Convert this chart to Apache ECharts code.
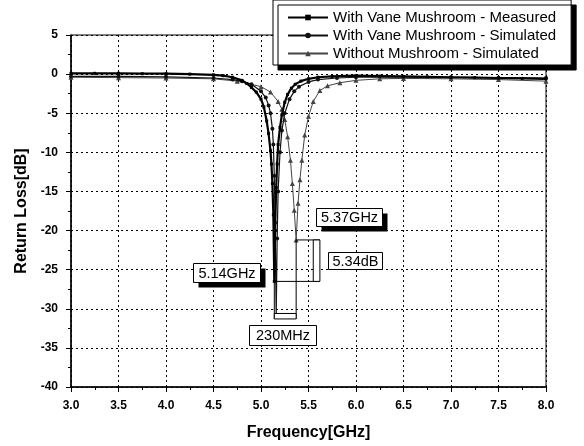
<!DOCTYPE html>
<html>
<head>
<meta charset="utf-8">
<script src="https://cdn.jsdelivr.net/npm/echarts@6/dist/echarts.min.js"></script>
<style>
  html, body { margin: 0; padding: 0; background: #fff; }
  #chart { width: 584px; height: 446px; }
</style>
</head>
<body>
<div id="chart"></div>
<script>
// Return loss of the antenna, with and without the vane mushroom structure
const measuredFreq = [3.0, 3.25, 3.5, 3.75, 4.0, 4.25, 4.5, 4.6, 4.7, 4.8, 4.85, 4.9, 4.95, 5.0, 5.03, 5.06, 5.08, 5.1, 5.11, 5.12, 5.13, 5.14, 5.15, 5.16, 5.17, 5.18, 5.2, 5.22, 5.25, 5.28, 5.32, 5.36, 5.42, 5.5, 5.6, 5.75, 6.0, 6.25, 6.5, 6.75, 7.0, 7.25, 7.5, 7.75, 8.0];
const measuredDb   = [0.1, 0.1, 0.1, 0.05, 0.05, 0, -0.1, -0.2, -0.4, -0.8, -1.2, -1.7, -2.3, -3.2, -4.2, -6.0, -7.6, -9.8, -11.5, -14, -18, -26.5, -19, -14.5, -11.5, -9, -6.8, -5.2, -3.6, -2.6, -1.8, -1.3, -0.9, -0.6, -0.4, -0.3, -0.2, -0.25, -0.3, -0.35, -0.4, -0.45, -0.5, -0.55, -0.6];

const vaneSimFreq = [3.0, 3.5, 4.0, 4.5, 4.7, 4.8, 4.9, 5.0, 5.05, 5.08, 5.1, 5.12, 5.13, 5.14, 5.15, 5.16, 5.17, 5.18, 5.2, 5.22, 5.25, 5.3, 5.35, 5.4, 5.5, 5.6, 5.8, 6.0, 6.5, 7.0, 7.5, 8.0];
const vaneSimDb   = [-0.3, -0.3, -0.35, -0.5, -0.7, -0.9, -1.3, -2.2, -3.0, -4.0, -5.0, -7.0, -9.0, -13, -20, -31, -21, -15, -10, -7.2, -5.0, -3.2, -2.2, -1.6, -1.0, -0.7, -0.5, -0.4, -0.35, -0.4, -0.45, -0.5];

const noMushFreq = [3.0, 3.5, 4.0, 4.5, 4.75, 5.0, 5.1, 5.18, 5.22, 5.25, 5.28, 5.31, 5.33, 5.35, 5.37, 5.39, 5.41, 5.43, 5.46, 5.5, 5.55, 5.62, 5.7, 5.83, 6.0, 6.25, 6.5, 7.0, 7.5, 8.0];
const noMushDb   = [-0.4, -0.45, -0.5, -0.6, -0.9, -1.6, -2.3, -3.5, -4.5, -5.8, -8.0, -11, -14, -17.4, -21.2, -16.5, -13.5, -11, -7.8, -5.4, -3.5, -2.1, -1.5, -1.1, -0.8, -0.6, -0.55, -0.6, -0.7, -0.9];

const seriesNames = [
  'With Vane Mushroom - Measured',
  'With Vane Mushroom - Simulated',
  'Without Mushroom - Simulated'
];

// Resonance comparison: frequencies (GHz) and minimum levels (dB)
const resFreqWith = 5.14;
const resFreqWithout = 5.37;
const resDbWith = -26.5;
const resDbWithout = -21.2;
const annotationTexts = ['5.37GHz', '5.34dB', '5.14GHz', '230MHz'];

const FONT = '"Liberation Sans", Arial, Helvetica, sans-serif';
const pair = (fs, ds) => fs.map((f, i) => [f, ds[i]]);

const chart = echarts.init(document.getElementById('chart'), null, { renderer: 'canvas' });

const axisCommon = {
  type: 'value',
  nameLocation: 'middle',
  nameTextStyle: { fontFamily: FONT, fontWeight: 'bold', fontSize: 16, color: '#000' },
  axisLine: { show: true, onZero: false, lineStyle: { color: '#000', width: 1.5 } },
  axisTick: { show: true, length: 5, lineStyle: { color: '#000', width: 1 } },
  minorTick: { show: true, splitNumber: 2, length: 3, lineStyle: { color: '#000', width: 1 } },
  splitLine: { show: true, lineStyle: { color: '#000', type: [2, 3], width: 1 } },
  axisLabel: { fontFamily: FONT, fontWeight: 'bold', fontSize: 12, color: '#000', margin: 13 }
};

chart.setOption({
  animation: false,
  backgroundColor: '#fff',
  grid: { left: 71, right: 38, top: 35, bottom: 59, show: true, borderColor: '#000', borderWidth: 1 },
  xAxis: Object.assign({}, axisCommon, {
    min: 3, max: 8, interval: 0.5,
    name: 'Frequency[GHz]', nameGap: 38,
    axisLabel: Object.assign({}, axisCommon.axisLabel, { formatter: v => v.toFixed(1) })
  }),
  yAxis: Object.assign({}, axisCommon, {
    min: -40, max: 5, interval: 5,
    name: 'Return Loss[dB]', nameGap: 38
  }),
  legend: {
    orient: 'vertical',
    left: 273, top: 0,
    padding: [10, 15, 4, 14],
    itemGap: 3,
    itemWidth: 40, itemHeight: 7,
    backgroundColor: '#fff',
    borderColor: '#000', borderWidth: 1,
    shadowColor: '#000', shadowOffsetX: 5, shadowOffsetY: 5, shadowBlur: 0,
    textStyle: { fontFamily: FONT, fontSize: 15, color: '#000' },
    data: seriesNames
  },
  series: [
    {
      name: seriesNames[0], type: 'line',
      data: pair(measuredFreq, measuredDb),
      symbol: 'rect', symbolSize: 3, showSymbol: true,
      lineStyle: { color: '#000', width: 2.2 },
      itemStyle: { color: '#000' },
      z: 4
    },
    {
      name: seriesNames[1], type: 'line',
      data: pair(vaneSimFreq, vaneSimDb),
      symbol: 'circle', symbolSize: 4, showSymbol: true,
      lineStyle: { color: '#111', width: 1.2 },
      itemStyle: { color: '#111' },
      z: 3
    },
    {
      name: seriesNames[2], type: 'line',
      data: pair(noMushFreq, noMushDb),
      symbol: 'triangle', symbolSize: 5, showSymbol: true,
      lineStyle: { color: '#444', width: 1 },
      itemStyle: { color: '#444' },
      z: 2
    }
  ]
});

// Bracket lines and value boxes around the two resonances
const px = (f, d) => chart.convertToPixel({ gridIndex: 0 }, [f, d]);
const bracketBottom = -31.3;
const bracketBarTop = -30.6;
const dbBracketRight = 5.62;
const dbBracketLeft = 5.55;

const lineStyle = { stroke: '#000', lineWidth: 1 };
function seg(a, b) {
  return { type: 'line', shape: { x1: a[0], y1: a[1], x2: b[0], y2: b[1] }, style: lineStyle, z: 100 };
}
function rectBetween(a, b, fill) {
  return {
    type: 'rect',
    shape: { x: Math.min(a[0], b[0]), y: Math.min(a[1], b[1]), width: Math.abs(b[0] - a[0]), height: Math.abs(b[1] - a[1]) },
    style: { fill: fill, stroke: '#000', lineWidth: 1 }, z: 100
  };
}
function textBox(text, f, d, w, h, shadow) {
  const c = px(f, d);
  const x = Math.round(c[0] - w / 2) + 0.5, y = Math.round(c[1] - h / 2) + 0.5;
  const els = [];
  if (shadow) {
    els.push({ type: 'rect', shape: { x: x + 5, y: y + 5, width: w, height: h }, style: { fill: '#000' }, z: 101 });
  }
  els.push({ type: 'rect', shape: { x: x, y: y, width: w, height: h }, style: { fill: '#fff', stroke: '#000', lineWidth: 1 }, z: 102 });
  els.push({
    type: 'text', x: x + w / 2, y: y + h / 2 + 0.5, z: 103,
    style: { text: text, fill: '#000', font: '14.5px ' + FONT, align: 'center', verticalAlign: 'middle' }
  });
  return els;
}

const graphics = [
  seg(px(resFreqWith, resDbWith), px(resFreqWith, bracketBottom)),
  seg(px(resFreqWithout, resDbWithout), px(resFreqWithout, bracketBottom)),
  rectBetween(px(resFreqWith, bracketBarTop), px(resFreqWithout, bracketBottom), '#fff'),
  seg(px(resFreqWith, resDbWith), px(dbBracketRight, resDbWith)),
  seg(px(resFreqWithout, resDbWithout), px(dbBracketRight, resDbWithout)),
  rectBetween(px(dbBracketLeft, resDbWithout), px(dbBracketRight, resDbWith), '#fff')
]
  .concat(textBox(annotationTexts[0], 5.93, -18.3, 66, 18, true))
  .concat(textBox(annotationTexts[1], 5.99, -23.8, 54, 17, false))
  .concat(textBox(annotationTexts[2], 4.64, -25.4, 67, 19, true))
  .concat(textBox(annotationTexts[3], 5.23, -33.3, 67, 20, false));

chart.setOption({ graphic: graphics });
</script>
</body>
</html>
